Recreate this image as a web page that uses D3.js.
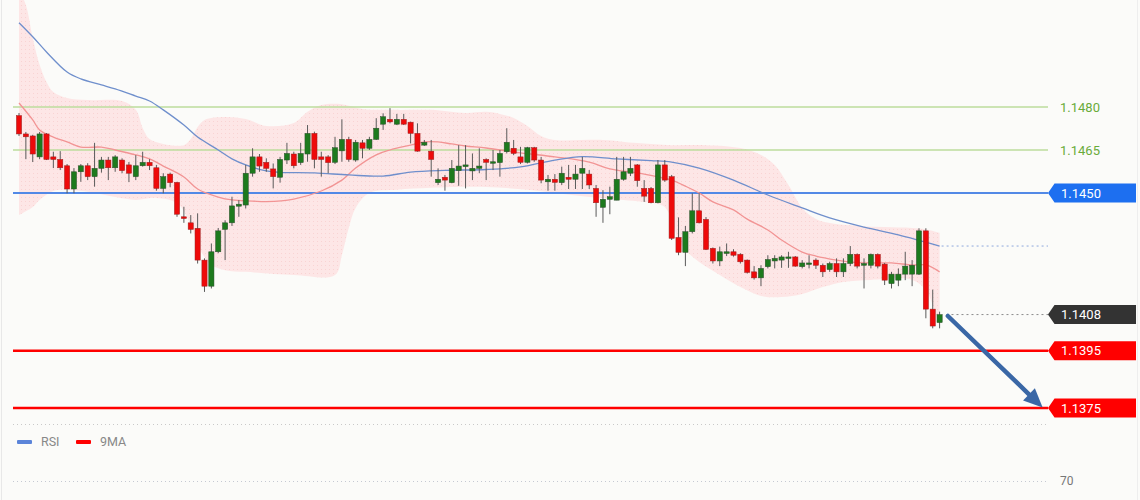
<!DOCTYPE html>
<html><head><meta charset="utf-8">
<script src="https://cdn.jsdelivr.net/npm/d3@7"></script>
<style>html,body{margin:0;padding:0;background:#fbfbf9;overflow:hidden}
text{font-family:Roboto,"Open Sans",sans-serif}</style></head>
<body><svg id="c" width="1140" height="500"></svg>
<script>
// ---- candle data ----
const candleOpen = [1.14770,1.14706,1.14699,1.14626,1.14706,1.14626,1.14617,1.14595,1.14514,1.14574,
1.14595,1.14557,1.14586,1.14615,1.14588,1.14615,1.14598,1.14557,1.14595,1.14607,
1.14588,1.14516,1.14566,1.14537,1.14417,1.14396,1.14377,1.14266,1.14175,1.14295,
1.14373,1.14396,1.14454,1.14458,1.14569,1.14626,1.14607,1.14584,1.14555,1.14615,
1.14636,1.14606,1.14636,1.14708,1.14626,1.14626,1.14607,1.14647,1.14687,1.14615,
1.14675,1.14656,1.14687,1.14740,1.14757,1.14740,1.14757,1.14747,1.14708,1.14667,
1.14646,1.14536,1.14555,1.14536,1.14578,1.14592,1.14577,1.14586,1.14617,1.14606,
1.14606,1.14644,1.14656,1.14626,1.14607,1.14658,1.14615,1.14539,1.14548,1.14536,
1.14555,1.14548,1.14569,1.14566,1.14516,1.14450,1.14478,1.14475,1.14548,1.14569,
1.14598,1.14516,1.14516,1.14466,1.14598,1.14557,1.14345,1.14293,1.14365,1.14438,
1.14408,1.14307,1.14263,1.14289,1.14295,1.14286,1.14266,1.14225,1.14204,1.14243,
1.14263,1.14266,1.14272,1.14277,1.14243,1.14252,1.14266,1.14248,1.14233,1.14254,
1.14225,1.14254,1.14286,1.14248,1.14248,1.14286,1.14252,1.14184,1.14196,1.14217,
1.14217,1.14217,1.14368,1.14095,1.14048];
const candleHigh = [1.14779,1.14713,1.14703,1.14713,1.14709,1.14644,1.14646,1.14601,1.14587,1.14601,
1.14604,1.14675,1.14626,1.14626,1.14632,1.14621,1.14608,1.14632,1.14644,1.14618,
1.14598,1.14569,1.14571,1.14539,1.14452,1.14423,1.14429,1.14272,1.14324,1.14378,
1.14405,1.14487,1.14475,1.14598,1.14656,1.14636,1.14621,1.14603,1.14626,1.14675,
1.14644,1.14675,1.14737,1.14714,1.14644,1.14632,1.14696,1.14757,1.14696,1.14685,
1.14685,1.14696,1.14761,1.14778,1.14796,1.14776,1.14776,1.14749,1.14743,1.14685,
1.14685,1.14586,1.14563,1.14615,1.14667,1.14667,1.14638,1.14656,1.14621,1.14650,
1.14650,1.14726,1.14685,1.14661,1.14661,1.14661,1.14626,1.14563,1.14566,1.14592,
1.14598,1.14598,1.14626,1.14580,1.14528,1.14510,1.14522,1.14626,1.14626,1.14626,
1.14601,1.14545,1.14521,1.14615,1.14615,1.14563,1.14415,1.14385,1.14499,1.14499,
1.14416,1.14310,1.14313,1.14324,1.14304,1.14290,1.14268,1.14245,1.14248,1.14283,
1.14283,1.14283,1.14295,1.14280,1.14266,1.14283,1.14272,1.14254,1.14260,1.14272,
1.14272,1.14315,1.14289,1.14272,1.14289,1.14289,1.14256,1.14225,1.14237,1.14295,
1.14266,1.14377,1.14377,1.14163,1.14086];
const candleLow = [1.14699,1.14618,1.14608,1.14618,1.14615,1.14587,1.14580,1.14499,1.14499,1.14539,
1.14545,1.14522,1.14571,1.14545,1.14574,1.14569,1.14538,1.14545,1.14592,1.14580,
1.14508,1.14499,1.14520,1.14417,1.14396,1.14359,1.14254,1.14155,1.14167,1.14290,
1.14266,1.14385,1.14417,1.14446,1.14557,1.14574,1.14574,1.14516,1.14536,1.14601,
1.14586,1.14598,1.14609,1.14586,1.14557,1.14569,1.14601,1.14609,1.14609,1.14609,
1.14621,1.14650,1.14685,1.14720,1.14743,1.14737,1.14737,1.14673,1.14644,1.14664,
1.14557,1.14528,1.14508,1.14534,1.14525,1.14516,1.14545,1.14569,1.14545,1.14580,
1.14557,1.14638,1.14632,1.14601,1.14603,1.14609,1.14534,1.14508,1.14508,1.14528,
1.14514,1.14514,1.14514,1.14514,1.14417,1.14396,1.14426,1.14475,1.14543,1.14559,
1.14522,1.14469,1.14464,1.14464,1.14539,1.14336,1.14283,1.14245,1.14359,1.14394,
1.14301,1.14254,1.14245,1.14280,1.14278,1.14254,1.14219,1.14198,1.14175,1.14237,
1.14237,1.14239,1.14239,1.14243,1.14237,1.14237,1.14235,1.14207,1.14225,1.14207,
1.14207,1.14245,1.14237,1.14167,1.14237,1.14237,1.14179,1.14167,1.14175,1.14196,
1.14175,1.14214,1.14063,1.14028,1.14028];
const candleClose = [1.14706,1.14696,1.14636,1.14706,1.14617,1.14617,1.14588,1.14514,1.14574,1.14595,
1.14557,1.14586,1.14615,1.14588,1.14626,1.14578,1.14569,1.14595,1.14607,1.14595,
1.14516,1.14557,1.14536,1.14426,1.14411,1.14373,1.14266,1.14175,1.14295,1.14368,
1.14396,1.14455,1.14461,1.14569,1.14626,1.14594,1.14586,1.14557,1.14617,1.14638,
1.14595,1.14638,1.14708,1.14617,1.14617,1.14606,1.14658,1.14687,1.14617,1.14677,
1.14656,1.14687,1.14726,1.14766,1.14748,1.14757,1.14740,1.14708,1.14646,1.14677,
1.14617,1.14548,1.14545,1.14586,1.14594,1.14598,1.14586,1.14594,1.14607,1.14609,
1.14638,1.14677,1.14638,1.14607,1.14658,1.14615,1.14545,1.14548,1.14537,1.14569,
1.14548,1.14566,1.14586,1.14528,1.14466,1.14478,1.14487,1.14548,1.14574,1.14586,
1.14543,1.14489,1.14466,1.14598,1.14545,1.14342,1.14293,1.14365,1.14438,1.14396,
1.14303,1.14263,1.14295,1.14295,1.14283,1.14260,1.14223,1.14204,1.14237,1.14268,
1.14272,1.14277,1.14277,1.14245,1.14256,1.14256,1.14248,1.14225,1.14254,1.14225,
1.14254,1.14286,1.14245,1.14254,1.14286,1.14245,1.14196,1.14217,1.14217,1.14245,
1.14248,1.14368,1.14095,1.14036,1.14076];

// ---- overlays: [candle index, price] ----
const bandUpper = [[0,1.15208],[1,1.15156],[2,1.15041],[3,1.14947],[4,1.14887],[5,1.14852],[7,1.14831],[10,1.14824],[15,1.14821],[17,1.14790],[18,1.14727],[19,1.14688],[21,1.14671],[24,1.14667],[25,1.14688],[26,1.14730],[27,1.14755],[30,1.14765],[33,1.14758],[36,1.14734],[40,1.14744],[42,1.14783],[44,1.14807],[47,1.14810],[50,1.14793],[55,1.14790],[60,1.14790],[65,1.14779],[68,1.14783],[70,1.14776],[72,1.14762],[74,1.14734],[76,1.14699],[78,1.14685],[85,1.14685],[90,1.14674],[95,1.14667],[100,1.14667],[105,1.14657],[108,1.14633],[110,1.14598],[112,1.14528],[114,1.14448],[116,1.14409],[118,1.14395],[122,1.14385],[126,1.14381],[130,1.14378],[132,1.14374],[134,1.14361]];
const bandLower = [[0,1.14423],[2,1.14451],[3,1.14476],[5,1.14507],[7,1.14511],[10,1.14504],[14,1.14486],[17,1.14476],[20,1.14483],[23,1.14465],[25,1.14388],[26,1.14319],[27,1.14277],[28,1.14249],[30,1.14231],[33,1.14225],[40,1.14214],[46,1.14214],[47,1.14284],[48,1.14378],[49,1.14448],[51,1.14500],[55,1.14511],[60,1.14518],[68,1.14521],[74,1.14511],[78,1.14500],[83,1.14486],[88,1.14476],[93,1.14462],[94,1.14451],[95,1.14406],[96,1.14336],[97,1.14301],[99,1.14259],[102,1.14214],[105,1.14172],[108,1.14141],[111,1.14137],[114,1.14148],[117,1.14172],[120,1.14190],[124,1.14197],[130,1.14197],[132,1.14162],[133,1.14109],[134,1.14033]];
const maShort = [[0,1.14814],[2,1.14755],[3,1.14720],[5,1.14695],[7,1.14678],[9,1.14660],[12,1.14660],[14,1.14650],[17,1.14633],[19,1.14619],[21,1.14594],[24,1.14556],[26,1.14514],[29,1.14486],[31,1.14476],[34,1.14472],[36,1.14470],[40,1.14479],[44,1.14507],[47,1.14545],[49,1.14587],[52,1.14633],[54,1.14650],[57,1.14667],[59,1.14678],[61,1.14678],[63,1.14671],[65,1.14664],[68,1.14657],[73,1.14640],[78,1.14626],[83,1.14608],[86,1.14584],[90,1.14570],[93,1.14556],[95,1.14545],[97,1.14524],[99,1.14500],[101,1.14469],[104,1.14441],[106,1.14409],[109,1.14371],[111,1.14336],[114,1.14294],[116,1.14280],[119,1.14266],[121,1.14259],[124,1.14256],[127,1.14256],[130,1.14249],[132,1.14249],[134,1.14225]];
const maLong = [[0,1.15094],[2,1.15045],[4,1.14992],[7,1.14922],[9,1.14898],[12,1.14877],[14,1.14863],[17,1.14838],[19,1.14821],[21,1.14790],[24,1.14737],[26,1.14695],[29,1.14650],[31,1.14619],[33,1.14598],[36,1.14577],[38,1.14572],[43,1.14570],[48,1.14563],[53,1.14559],[57,1.14573],[62,1.14579],[68,1.14582],[73,1.14591],[78,1.14615],[82,1.14627],[87,1.14619],[92,1.14613],[95,1.14608],[99,1.14587],[104,1.14545],[109,1.14493],[114,1.14448],[118,1.14413],[123,1.14381],[128,1.14354],[134,1.14315]];

// ---- levels & labels ----
const greenLevels = [1.1480, 1.1465];
const blueLevels = [1.1450];
const redLevels = [1.1395, 1.1375];
const currentPrice = 1.14076;
const targetArrow = [[135.2, 1.14071], [149, 1.13752]];
const legendItems = ["RSI", "9MA"];
const rsiLevels = [70];

// ---- drawing ----
const svg = d3.select("#c");
const W = 1140, H = 500, plotRight = 1048, plotBottom = 424;
svg.append("rect").attr("width", W).attr("height", H).attr("fill", "#fbfbf9");

const n = candleOpen.length;
const x = d3.scalePoint().domain(d3.range(n)).range([19, 939.6]);
const xl = d3.scaleLinear().domain([0, n - 1]).range([19, 939.6]);
const y = d3.scaleLinear().domain([1.136943, 1.151732]).range([plotBottom, 0]);
const fmt = d3.format(".4f");

const defs = svg.append("defs");
defs.append("clipPath").attr("id", "clip").append("rect")
  .attr("x", 0).attr("y", 0).attr("width", plotRight).attr("height", plotBottom);
const pat = defs.append("pattern").attr("id", "dots").attr("patternUnits", "userSpaceOnUse")
  .attr("width", 4).attr("height", 4);
pat.append("rect").attr("width", 4).attr("height", 4).attr("fill", "#fde6e6");
pat.append("rect").attr("x", 1).attr("y", 1).attr("width", 1).attr("height", 1).attr("fill", "#f9d3d3");

// borders
svg.append("line").attr("x1", 1.5).attr("x2", 1.5).attr("y1", 0).attr("y2", H).attr("stroke", "#e8e8e8");
svg.append("line").attr("x1", 1137.5).attr("x2", 1137.5).attr("y1", 0).attr("y2", H).attr("stroke", "#eeeeee");

const g = svg.append("g").attr("clip-path", "url(#clip)");

// bollinger band
const curve = d3.curveCatmullRom.alpha(0.5);
const lineGen = d3.line().x(d => xl(d[0])).y(d => y(d[1])).curve(curve);
const upperPath = lineGen(bandUpper);
const lowerPath = lineGen(bandLower.slice().reverse());
g.append("path").attr("d", upperPath + "L" + lowerPath.slice(1) + "Z")
  .attr("fill", "url(#dots)").attr("stroke", "none");

// level lines
greenLevels.forEach(v => {
  g.append("line").attr("x1", 13).attr("x2", plotRight).attr("y1", y(v)).attr("y2", y(v))
    .attr("stroke", "#bddc9c").attr("stroke-width", 1.5);
});
blueLevels.forEach(v => {
  g.append("line").attr("x1", 13).attr("x2", plotRight).attr("y1", y(v)).attr("y2", y(v))
    .attr("stroke", "#5289e6").attr("stroke-width", 2);
});

// moving averages
g.append("path").attr("d", lineGen(maShort)).attr("fill", "none")
  .attr("stroke", "#f29494").attr("stroke-width", 1.3);
g.append("path").attr("d", lineGen(maLong)).attr("fill", "none")
  .attr("stroke", "#6f8fcc").attr("stroke-width", 1.3);

// candles
const idx = d3.range(n);
g.selectAll("line.wick").data(idx).join("line").attr("class", "wick")
  .attr("x1", i => x(i)).attr("x2", i => x(i))
  .attr("y1", i => y(candleHigh[i])).attr("y2", i => y(candleLow[i]))
  .attr("stroke", "#5a5a5a").attr("stroke-width", 1);
g.selectAll("rect.body").data(idx).join("rect").attr("class", "body")
  .attr("x", i => x(i) - 2.6).attr("width", 5.2)
  .attr("y", i => y(Math.max(candleOpen[i], candleClose[i])))
  .attr("height", i => Math.max(1.5, Math.abs(y(candleOpen[i]) - y(candleClose[i]))))
  .attr("fill", i => candleClose[i] >= candleOpen[i] ? "#1d7a1d" : "#ee0a0a")
  .attr("stroke", i => candleClose[i] >= candleOpen[i] ? "#2d4d2d" : "#9a2020")
  .attr("stroke-width", 0.5);

// red support lines
redLevels.forEach(v => {
  g.append("line").attr("x1", 13).attr("x2", plotRight).attr("y1", y(v)).attr("y2", y(v))
    .attr("stroke", "#ff0000").attr("stroke-width", 2.5);
});

// dotted continuation lines
const lastLong = maLong[maLong.length - 1];
svg.append("line").attr("x1", xl(lastLong[0]) + 2).attr("x2", plotRight)
  .attr("y1", y(lastLong[1])).attr("y2", y(lastLong[1]))
  .attr("stroke", "#8ea8dc").attr("stroke-width", 1).attr("stroke-dasharray", "2,3");
svg.append("line").attr("x1", xl(n)).attr("x2", plotRight)
  .attr("y1", y(currentPrice)).attr("y2", y(currentPrice))
  .attr("stroke", "#8a8a8a").attr("stroke-width", 1).attr("stroke-dasharray", "2,3");

// green labels
greenLevels.forEach(v => {
  svg.append("text").attr("x", 1060).attr("y", y(v)).attr("dy", "0.35em")
    .attr("font-size", 13).attr("fill", "#6aab3a").text(fmt(v));
});

// tags
function tag(v, color) {
  const cy = y(v), h = 9.5;
  svg.append("path").attr("d", `M${plotRight},${cy} L${plotRight + 6.5},${cy - h} L1136,${cy - h} L1136,${cy + h} L${plotRight + 6.5},${cy + h} Z`)
    .attr("fill", color);
  svg.append("text").attr("x", 1061).attr("y", cy).attr("dy", "0.36em")
    .attr("font-size", 13).attr("fill", "#ffffff").text(fmt(v));
}
blueLevels.forEach(v => tag(v, "#1d6ff0"));
tag(currentPrice, "#333333");
redLevels.forEach(v => tag(v, "#ff0000"));

// arrow
const ax1 = xl(targetArrow[0][0]), ay1 = y(targetArrow[0][1]);
const ax2 = xl(targetArrow[1][0]), ay2 = y(targetArrow[1][1]);
const ang = Math.atan2(ay2 - ay1, ax2 - ax1);
const hl = 19, hw = 8.5;
const bx = ax2 - hl * Math.cos(ang), by = ay2 - hl * Math.sin(ang);
svg.append("line").attr("x1", ax1).attr("y1", ay1).attr("x2", bx).attr("y2", by)
  .attr("stroke", "#3a67a6").attr("stroke-width", 4.5).attr("stroke-linecap", "round");
svg.append("path").attr("d", `M${ax2},${ay2} L${bx + hw * Math.sin(ang)},${by - hw * Math.cos(ang)} L${bx - hw * Math.sin(ang)},${by + hw * Math.cos(ang)} Z`)
  .attr("fill", "#3a67a6");

// panel separator
svg.append("line").attr("x1", 13).attr("x2", plotRight).attr("y1", plotBottom + 0.5).attr("y2", plotBottom + 0.5)
  .attr("stroke", "#c9c9c9").attr("stroke-dasharray", "1,3");

// RSI panel
const rsiY = d3.scaleLinear().domain([70, 100]).range([481, 436]);
rsiLevels.forEach(v => {
  svg.append("line").attr("x1", 13).attr("x2", 1046).attr("y1", rsiY(v) + 0.5).attr("y2", rsiY(v) + 0.5)
    .attr("stroke", "#c5c9d2").attr("stroke-dasharray", "1,3");
  svg.append("text").attr("x", 1060).attr("y", rsiY(v)).attr("dy", "0.35em")
    .attr("font-size", 12).attr("fill", "#777").text(v);
});

// legend
const legColors = ["#5b84d9", "#ff0000"];
const legX = [17, 76];
legendItems.forEach((t, k) => {
  svg.append("rect").attr("x", legX[k]).attr("y", 440).attr("width", 15).attr("height", 4)
    .attr("rx", 1).attr("fill", legColors[k]);
  svg.append("text").attr("x", legX[k] + 24).attr("y", 442).attr("dy", "0.35em")
    .attr("font-size", 12.5).attr("fill", "#888").text(t);
});
</script></body></html>
